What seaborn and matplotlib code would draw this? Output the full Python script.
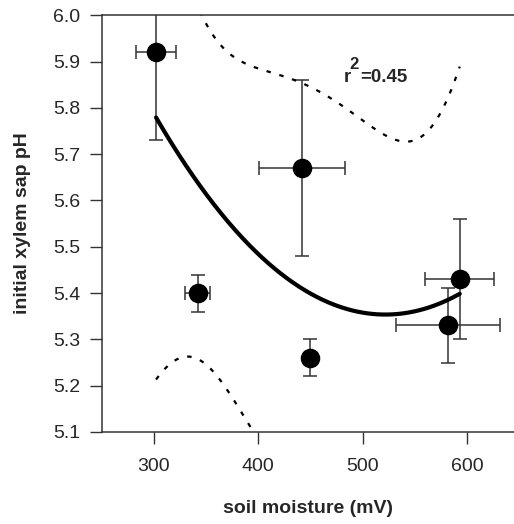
import numpy as np
import pandas as pd
import matplotlib
matplotlib.use("Agg")
import matplotlib.pyplot as plt
import seaborn as sns

# data
soil_moisture = [302, 342, 442, 450, 582, 593]
sap_ph = [5.92, 5.40, 5.67, 5.26, 5.33, 5.43]
ph_err = [0.19, 0.04, 0.19, 0.04, 0.08, 0.13]
moisture_err = [19, 12, 41, 0, 50, 33]
x_ticks = [300, 400, 500, 600]
y_ticks = [5.1, 5.2, 5.3, 5.4, 5.5, 5.6, 5.7, 5.8, 5.9, 6.0]
r2_value = "=0.45"
t_crit = 2.776  # t(0.975, df=4)

sns.set_theme(style="ticks")
plt.rcParams['font.family'] = ['Liberation Sans', 'DejaVu Sans']

df = pd.DataFrame({"soil moisture (mV)": soil_moisture, "initial xylem sap pH": sap_ph})

fig = plt.figure(figsize=(5.14, 5.24), dpi=100)
ax = fig.add_axes([0.198, 0.1756, 0.802, 0.7954])

# quadratic fit and 95% confidence band
x = np.array(soil_moisture, float)
y = np.array(sap_ph, float)
X = np.column_stack([np.ones_like(x), x, x**2])
beta, *_ = np.linalg.lstsq(X, y, rcond=None)
resid = y - X @ beta
s2 = resid @ resid / (len(x) - 3)
cov = s2 * np.linalg.inv(X.T @ X)
xs = np.linspace(x.min(), x.max(), 300)
Xs = np.column_stack([np.ones_like(xs), xs, xs**2])
fit = Xs @ beta
se = np.sqrt(np.einsum('ij,jk,ik->i', Xs, cov, Xs))
ax.plot(xs, fit, color='black', lw=3, zorder=3)
ax.plot(xs, fit + t_crit * se, color='black', lw=1.6, dashes=(2, 4), zorder=3)
ax.plot(xs, fit - t_crit * se, color='black', lw=1.6, dashes=(2, 4), zorder=3)

ax.errorbar(soil_moisture, sap_ph, yerr=ph_err, xerr=moisture_err, fmt='none',
            ecolor='#333333', elinewidth=1.1, capsize=5, capthick=1.1, zorder=2)
sns.scatterplot(data=df, x="soil moisture (mV)", y="initial xylem sap pH", ax=ax,
                s=170, color='black', edgecolor='black', zorder=4)

# r^2 annotation: "r", raised "2", then "=0.45"
pt = 0.72  # points per pixel at 100 dpi
ax.annotate("r", xy=(482, 5.855), xytext=(0, 0), textcoords='offset points',
            fontsize=13.5, fontweight='bold', ha='left', va='baseline')
ax.annotate("2", xy=(482, 5.855), xytext=(5.5 * pt, 13 * pt), textcoords='offset points',
            fontsize=12, fontweight='bold', ha='left', va='baseline')
ax.annotate(r2_value, xy=(482, 5.855), xytext=(16 * pt, 0), textcoords='offset points',
            fontsize=13.5, fontweight='bold', ha='left', va='baseline')

ax.set_xlim(250, 645)
ax.set_ylim(5.1, 6.0)
ax.set_xticks(x_ticks)
ax.set_yticks(y_ticks)
ax.set_yticklabels([f"{v:.1f}" for v in y_ticks])
ax.tick_params(axis='both', length=8.5, width=1, labelsize=14, color='#333333')
ax.tick_params(axis='x', pad=10)
ax.tick_params(axis='y', pad=7)
ax.set_xlabel("soil moisture (mV)", fontsize=14, fontweight='bold', labelpad=18)
ax.set_ylabel("initial xylem sap pH", fontsize=14, fontweight='bold', labelpad=16)
for side in ['left', 'bottom', 'top']:
    ax.spines[side].set_color('#333333')
    ax.spines[side].set_linewidth(1.1)
ax.spines['right'].set_visible(False)

fig.savefig("out.png", dpi=100)
